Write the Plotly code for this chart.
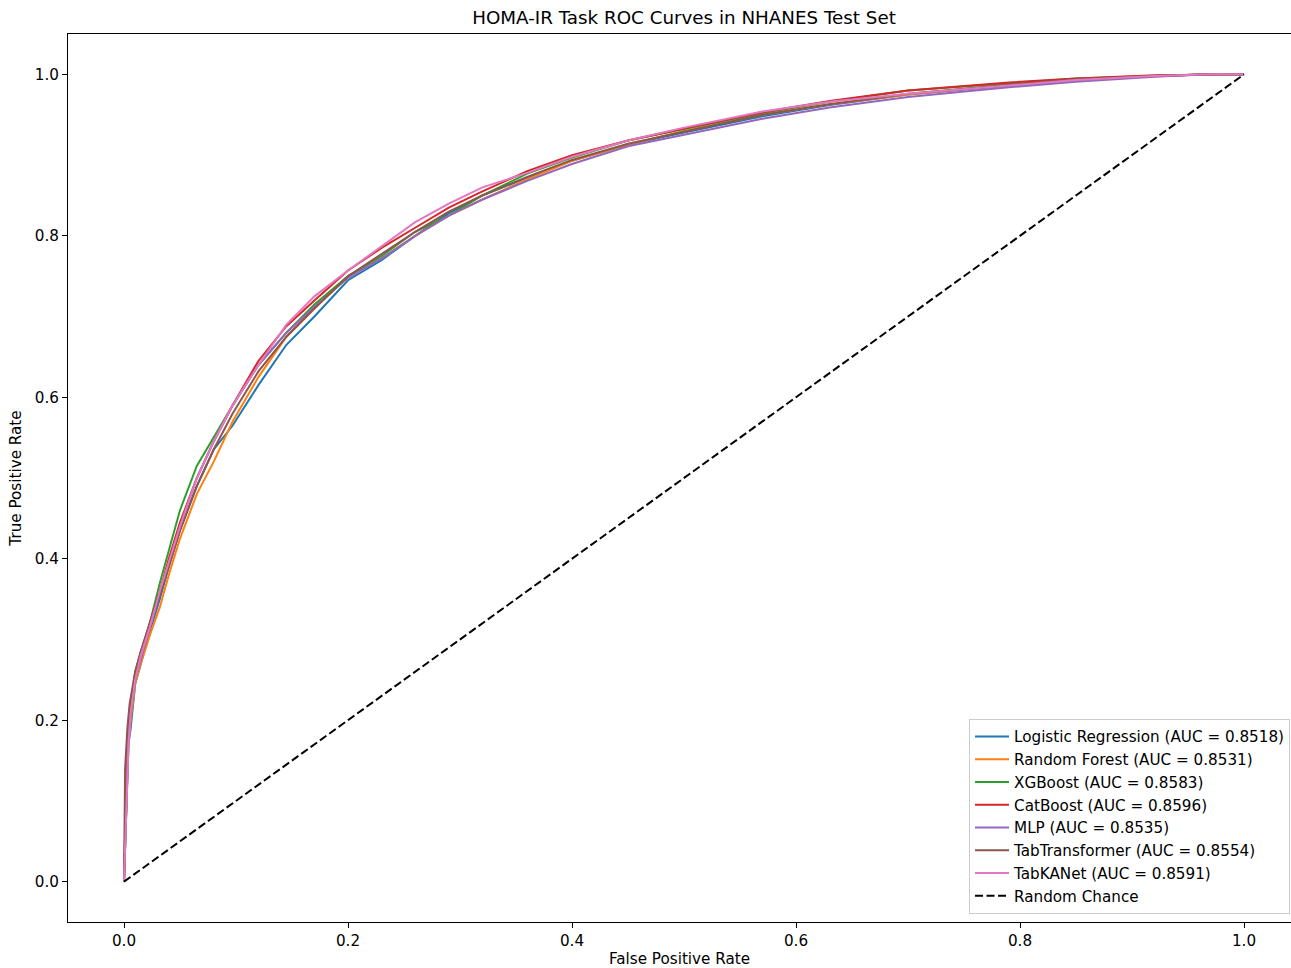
import plotly.graph_objects as go

# ---- data ----
model_names = ["Logistic Regression", "Random Forest", "XGBoost", "CatBoost",
               "MLP", "TabTransformer", "TabKANet"]
model_auc = [0.8518, 0.8531, 0.8583, 0.8596, 0.8535, 0.8554, 0.8591]
model_colors = ["#1f77b4", "#ff7f0e", "#2ca02c", "#d62728", "#9467bd", "#8c564b", "#e377c2"]

fpr_lr = [0, 0.002, 0.004, 0.006, 0.01, 0.015, 0.023, 0.032, 0.04, 0.05, 0.065, 0.08, 0.097, 0.12, 0.145, 0.17, 0.2, 0.23, 0.26, 0.29, 0.32, 0.36, 0.40, 0.45, 0.50, 0.57, 0.63, 0.70, 0.79, 0.85, 0.92, 0.97, 1.0]
tpr_lr = [0, 0.09, 0.17, 0.19, 0.245, 0.27, 0.31, 0.35, 0.39, 0.435, 0.49, 0.535, 0.565, 0.615, 0.665, 0.70, 0.745, 0.77, 0.80, 0.828, 0.85, 0.872, 0.893, 0.913, 0.928, 0.948, 0.962, 0.975, 0.986, 0.993, 0.998, 1.0, 1.0]

fpr_rf = [0, 0.002, 0.004, 0.006, 0.01, 0.015, 0.023, 0.032, 0.04, 0.05, 0.065, 0.08, 0.097, 0.12, 0.145, 0.17, 0.2, 0.23, 0.26, 0.29, 0.32, 0.36, 0.40, 0.45, 0.50, 0.57, 0.63, 0.70, 0.79, 0.85, 0.92, 0.97, 1.0]
tpr_rf = [0, 0.10, 0.17, 0.20, 0.245, 0.27, 0.305, 0.34, 0.38, 0.425, 0.48, 0.52, 0.57, 0.625, 0.675, 0.71, 0.75, 0.772, 0.80, 0.825, 0.845, 0.87, 0.893, 0.913, 0.93, 0.95, 0.963, 0.975, 0.987, 0.994, 0.998, 1.0, 1.0]

fpr_xgb = [0, 0.002, 0.004, 0.006, 0.01, 0.015, 0.023, 0.032, 0.04, 0.05, 0.065, 0.08, 0.097, 0.12, 0.145, 0.17, 0.2, 0.23, 0.26, 0.29, 0.32, 0.36, 0.40, 0.45, 0.50, 0.57, 0.63, 0.70, 0.79, 0.85, 0.92, 0.97, 1.0]
tpr_xgb = [0, 0.10, 0.18, 0.21, 0.25, 0.28, 0.32, 0.37, 0.41, 0.46, 0.515, 0.55, 0.59, 0.64, 0.68, 0.715, 0.75, 0.775, 0.805, 0.825, 0.85, 0.877, 0.897, 0.918, 0.932, 0.952, 0.966, 0.98, 0.989, 0.995, 0.998, 1.0, 1.0]

fpr_cat = [0, 0.002, 0.004, 0.006, 0.01, 0.015, 0.023, 0.032, 0.04, 0.05, 0.065, 0.08, 0.097, 0.12, 0.145, 0.17, 0.2, 0.23, 0.26, 0.29, 0.32, 0.36, 0.40, 0.45, 0.50, 0.57, 0.63, 0.70, 0.79, 0.85, 0.92, 0.97, 1.0]
tpr_cat = [0, 0.12, 0.19, 0.22, 0.26, 0.285, 0.32, 0.36, 0.40, 0.445, 0.50, 0.545, 0.59, 0.645, 0.688, 0.72, 0.757, 0.785, 0.81, 0.835, 0.855, 0.88, 0.9, 0.918, 0.933, 0.953, 0.967, 0.98, 0.99, 0.995, 0.999, 1.0, 1.0]

fpr_mlp = [0, 0.002, 0.004, 0.006, 0.01, 0.015, 0.023, 0.032, 0.04, 0.05, 0.065, 0.08, 0.097, 0.12, 0.145, 0.17, 0.2, 0.23, 0.26, 0.29, 0.32, 0.36, 0.40, 0.45, 0.50, 0.57, 0.63, 0.70, 0.79, 0.85, 0.92, 0.97, 1.0]
tpr_mlp = [0, 0.10, 0.18, 0.21, 0.25, 0.275, 0.315, 0.355, 0.395, 0.44, 0.50, 0.545, 0.59, 0.64, 0.68, 0.712, 0.748, 0.772, 0.80, 0.825, 0.845, 0.868, 0.889, 0.911, 0.925, 0.945, 0.959, 0.972, 0.984, 0.991, 0.997, 1.0, 1.0]

fpr_tt = [0, 0.001, 0.003, 0.005, 0.01, 0.015, 0.023, 0.032, 0.04, 0.05, 0.065, 0.08, 0.097, 0.12, 0.145, 0.17, 0.2, 0.23, 0.26, 0.29, 0.32, 0.36, 0.40, 0.45, 0.50, 0.57, 0.63, 0.70, 0.79, 0.85, 0.92, 0.97, 1.0]
tpr_tt = [0, 0.14, 0.19, 0.22, 0.26, 0.285, 0.32, 0.355, 0.39, 0.435, 0.49, 0.535, 0.58, 0.632, 0.675, 0.71, 0.75, 0.777, 0.805, 0.83, 0.85, 0.873, 0.894, 0.914, 0.929, 0.95, 0.963, 0.976, 0.987, 0.994, 0.998, 1.0, 1.0]

fpr_kan = [0, 0.002, 0.004, 0.006, 0.01, 0.015, 0.023, 0.032, 0.04, 0.05, 0.065, 0.08, 0.097, 0.12, 0.145, 0.17, 0.2, 0.23, 0.26, 0.29, 0.32, 0.36, 0.40, 0.45, 0.50, 0.57, 0.63, 0.70, 0.79, 0.85, 0.92, 0.97, 1.0]
tpr_kan = [0, 0.08, 0.17, 0.21, 0.25, 0.28, 0.315, 0.36, 0.395, 0.44, 0.50, 0.545, 0.59, 0.64, 0.69, 0.725, 0.757, 0.787, 0.817, 0.84, 0.86, 0.878, 0.898, 0.918, 0.934, 0.954, 0.966, 0.976, 0.986, 0.993, 0.998, 1.0, 1.0]

chance_x = [0, 1]
chance_y = [0, 1]

fpr_all = [fpr_lr, fpr_rf, fpr_xgb, fpr_cat, fpr_mlp, fpr_tt, fpr_kan]
tpr_all = [tpr_lr, tpr_rf, tpr_xgb, tpr_cat, tpr_mlp, tpr_tt, tpr_kan]

tick_vals = [0.0, 0.2, 0.4, 0.6, 0.8, 1.0]

FONT = "DejaVu Sans"
FS = 15.2

fig = go.Figure()
for i, name in enumerate(model_names):
    fig.add_trace(go.Scatter(
        x=fpr_all[i], y=tpr_all[i], mode="lines",
        name=f"{name} (AUC = {model_auc[i]:.4f})",
        line=dict(color=model_colors[i], width=2),
    ))
fig.add_trace(go.Scatter(
    x=chance_x, y=chance_y, mode="lines", name="Random Chance",
    line=dict(color="black", width=2, dash="8px,3.5px"),
))

fig.update_layout(
    width=1291, height=968,
    margin=dict(l=68, r=0, t=34, b=46),
    paper_bgcolor="white", plot_bgcolor="white",
    font=dict(family=FONT, size=FS, color="black"),
    title=dict(text="HOMA-IR Task ROC Curves in NHANES Test Set",
               x=684 / 1291, xref="container", xanchor="center",
               y=1 - 18 / 968, yref="container", yanchor="middle",
               font=dict(size=18.3, family=FONT, color="black")),
    showlegend=True,
    legend=dict(x=0.9992, xanchor="right", y=0.009, yanchor="bottom",
                bgcolor="rgba(255,255,255,0.8)", bordercolor="#cccccc", borderwidth=1,
                font=dict(size=FS, family=FONT), itemwidth=34),
)
fig.update_xaxes(
    range=[-0.05, (1291 - 124) / 1120], tickvals=tick_vals, tickformat=".1f",
    showgrid=False, zeroline=False, showline=True, linecolor="black", linewidth=1,
    mirror=True, ticks="outside", ticklen=5, tickcolor="black", tickwidth=1,
    title=dict(text="False Positive Rate", font=dict(size=FS), standoff=7),
    tickfont=dict(size=FS),
)
fig.update_yaxes(
    range=[-0.05, 1.05], tickvals=tick_vals, tickformat=".1f",
    showgrid=False, zeroline=False, showline=True, linecolor="black", linewidth=1,
    ticks="outside", ticklen=5, tickcolor="black", tickwidth=1,
    title=dict(text="True Positive Rate", font=dict(size=FS), standoff=9),
    tickfont=dict(size=FS),
)

fig.write_html("out.html")
